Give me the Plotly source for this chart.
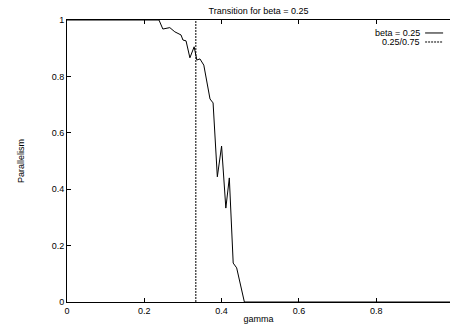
import plotly.graph_objects as go

# data
gamma = [0.0, 0.238, 0.248, 0.266, 0.279, 0.295, 0.300, 0.308, 0.318, 0.329,
         0.336, 0.344, 0.354, 0.370, 0.378, 0.389, 0.400, 0.411, 0.420, 0.430,
         0.439, 0.459, 0.991]
parallelism = [1.0, 1.0, 0.968, 0.973, 0.958, 0.947, 0.929, 0.926, 0.866, 0.905,
               0.858, 0.862, 0.840, 0.720, 0.706, 0.444, 0.553, 0.333, 0.440, 0.138,
               0.121, 0.0, 0.0]
transition_x = [0.25 / 0.75, 0.25 / 0.75]
transition_y = [0.0, 1.0]

x_ticks = [0, 0.2, 0.4, 0.6, 0.8]
x_tick_labels = ["0", "0.2", "0.4", "0.6", "0.8"]
y_ticks = [0, 0.2, 0.4, 0.6, 0.8, 1]
y_tick_labels = ["0", "0.2", "0.4", "0.6", "0.8", "1"]

FONT = "Liberation Sans, Arial, Helvetica, sans-serif"

fig = go.Figure()
fig.add_trace(go.Scatter(x=gamma, y=parallelism, mode="lines",
                         line=dict(color="black", width=1), name="beta = 0.25",
                         cliponaxis=False))
fig.add_trace(go.Scatter(x=transition_x, y=transition_y, mode="lines",
                         line=dict(color="black", width=1, dash="2px,1px"),
                         name="0.25/0.75"))

# legend drawn gnuplot-style (text, then sample on the right)
legend_items = [("beta = 0.25", "solid", 0.954), ("0.25/0.75", "2px,1px", 0.922)]
for label, dash, yp in legend_items:
    fig.add_annotation(x=0.926, y=yp, xref="paper", yref="paper", text=label,
                       showarrow=False, xanchor="right", yanchor="middle",
                       font=dict(size=9, color="black", family=FONT))
    fig.add_shape(type="line", xref="paper", yref="paper", x0=0.935, x1=0.982,
                  y0=yp, y1=yp, line=dict(color="black", width=1, dash=dash))

fig.update_layout(
    width=450, height=324,
    margin=dict(l=67, r=0, t=20, b=22),
    paper_bgcolor="white", plot_bgcolor="white",
    showlegend=False,
    font=dict(family=FONT, size=9, color="black"),
    title=dict(text="Transition for beta = 0.25", x=0.5, xref="paper",
               y=1 - 11 / 324, yref="container", yanchor="middle",
               font=dict(size=9, color="black", family=FONT)),
    xaxis=dict(range=[0, 0.991], tickvals=x_ticks, ticktext=x_tick_labels,
               ticks="inside", ticklen=4, tickcolor="black", showline=True,
               linecolor="black", linewidth=1, mirror="ticks", showgrid=False,
               zeroline=False, tickfont=dict(size=9, color="black", family=FONT),
               title=dict(text="gamma", standoff=2,
                          font=dict(size=9, color="black", family=FONT))),
    yaxis=dict(range=[0, 1], tickvals=y_ticks, ticktext=y_tick_labels,
               ticks="inside", ticklen=4, tickcolor="black", showline=True,
               linecolor="black", linewidth=1, mirror=False, showgrid=False,
               zeroline=False, tickfont=dict(size=9, color="black", family=FONT),
               title=dict(text="Parallelism", standoff=25,
                          font=dict(size=9, color="black", family=FONT))),
)
fig.write_html("out.html")
